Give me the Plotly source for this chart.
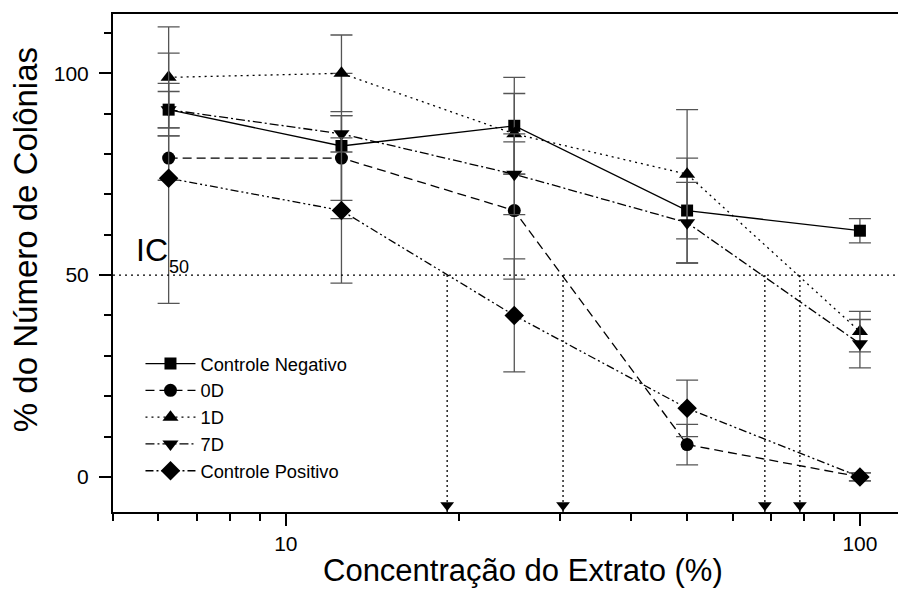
import plotly.graph_objects as go
import math

# ---- data ----
conc = [6.25, 12.5, 25, 50, 100]

cn_vals = [91, 82, 87, 66, 61]
cn_err = [6.5, 18, 12, 13, 3]

d0_vals = [79, 79, 66, 8, 0]
d0_err = [5.5, 10.5, 17, 5, 1]

d1_vals = [99, 100, 85, 75, 36]
d1_err = [12.5, 9.5, 10, 16, 5]

d7_vals = [91, 85, 75, 63, 33]
d7_err = [4.5, 4.5, 10, 10, 6]

cp_vals = [74, 66, 40, 17, 0]
cp_err = [31, 18, 14, 7, 1]

ic50_level = 50
ic50_x = [19.1, 30.4, 68.3, 78.6]

series_names = ["Controle Negativo", "0D", "1D", "7D", "Controle Positivo"]

# ---- styles ----
FONT = "Arial, Liberation Sans, sans-serif"
Y_MIN, Y_MAX = -8.7, 114.7
X_MIN, X_MAX = 5, 116.5

styles = [
    dict(dash="solid", symbol="square", size=12),
    dict(dash="9px,5px", symbol="circle", size=13),
    dict(dash="2px,4px", symbol="triangle-up", size=14),
    dict(dash="9px,3px,2px,3px", symbol="triangle-down", size=14),
    dict(dash="8px,3px,2px,3px,2px,3px", symbol="diamond", size=15),
]
vals = [cn_vals, d0_vals, d1_vals, d7_vals, cp_vals]
errs = [cn_err, d0_err, d1_err, d7_err, cp_err]

fig = go.Figure()

# IC50 vertical dotted arrows
for xv in ic50_x:
    fig.add_trace(go.Scatter(
        x=[xv, xv], y=[ic50_level, Y_MIN],
        mode="lines", line=dict(color="black", width=1.3, dash="2px,3px"),
        showlegend=False, hoverinfo="skip", cliponaxis=False))
fig.add_trace(go.Scatter(
    x=ic50_x, y=[-7.0] * len(ic50_x), mode="markers",
    marker=dict(symbol="triangle-down", size=12, color="black"),
    showlegend=False, hoverinfo="skip", cliponaxis=False))

for name, v, e, s in zip(series_names, vals, errs, styles):
    fig.add_trace(go.Scatter(
        x=conc, y=v, name=name, mode="lines+markers",
        line=dict(color="black", width=1.3, dash=s["dash"]),
        marker=dict(symbol=s["symbol"], size=s["size"], color="black"),
        error_y=dict(type="data", array=e, visible=True, color="#555555",
                     thickness=1.3, width=11),
        cliponaxis=False))

# IC50 horizontal line
fig.add_shape(type="line", xref="paper", yref="y", x0=0, x1=1,
              y0=ic50_level, y1=ic50_level,
              line=dict(color="black", width=1.3, dash="2px,4px"))

fig.add_annotation(x=math.log10(5.45), y=56.2, xref="x", yref="y", text="IC",
                   showarrow=False, font=dict(family=FONT, size=32, color="black"),
                   xanchor="left", yanchor="middle")
fig.add_annotation(x=math.log10(6.22), y=52.0, xref="x", yref="y", text="50",
                   showarrow=False, font=dict(family=FONT, size=18, color="black"),
                   xanchor="left", yanchor="middle")

# axis titles
fig.add_annotation(x=0.522, y=-0.1165, xref="paper", yref="paper",
                   text="Concentração do Extrato (%)", showarrow=False,
                   font=dict(family=FONT, size=31, color="black"),
                   xanchor="center", yanchor="middle")
fig.add_annotation(x=-0.112, y=0.546, xref="paper", yref="paper",
                   text="% do Número de Colônias", showarrow=False, textangle=-90,
                   font=dict(family=FONT, size=33, color="black"),
                   xanchor="center", yanchor="middle")

fig.update_layout(
    width=898, height=589,
    margin=dict(l=113, r=0, t=14, b=77),
    paper_bgcolor="white", plot_bgcolor="white",
    font=dict(family=FONT, color="black"),
    showlegend=True,
    legend=dict(x=0.035, y=0.335, xanchor="left", yanchor="top",
                bgcolor="rgba(0,0,0,0)", font=dict(family=FONT, size=18.3),
                tracegroupgap=0, itemwidth=50),
)
fig.update_xaxes(
    type="log", range=[math.log10(X_MIN), math.log10(X_MAX)],
    showgrid=False, zeroline=False,
    showline=True, linecolor="black", linewidth=2, mirror=True,
    ticks="outside", ticklen=12, tickwidth=1.5, tickcolor="black",
    dtick=1, tickfont=dict(family=FONT, size=21, color="black"),
    minor=dict(ticks="outside", ticklen=7, tickwidth=1.5, tickcolor="black", dtick="D1", showgrid=False),
)
fig.update_yaxes(
    range=[Y_MIN, Y_MAX], showgrid=False, zeroline=False,
    showline=True, linecolor="black", linewidth=2,
    ticks="outside", ticklen=12, tickwidth=1.5, tickcolor="black",
    tick0=0, dtick=50, tickfont=dict(family=FONT, size=21, color="black"),
    ticklabelstandoff=6,
    minor=dict(ticks="outside", ticklen=7, tickwidth=1.5, tickcolor="black", dtick=10, tick0=0, showgrid=False),
)

fig.write_html("out.html")
